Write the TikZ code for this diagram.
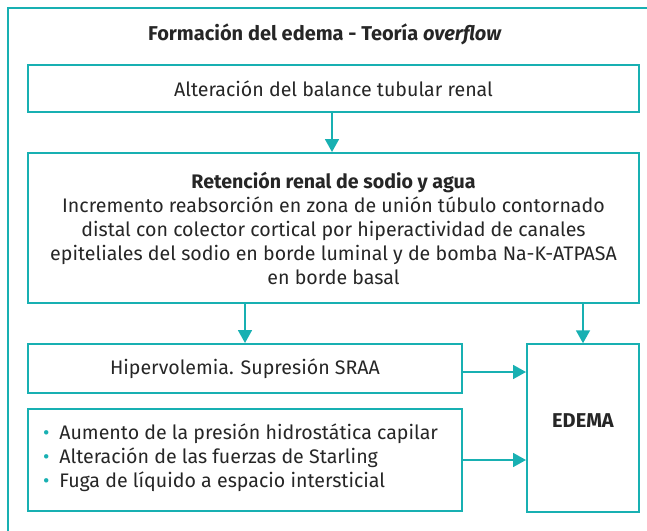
\documentclass[tikz,border=0pt]{standalone}
\usepackage{fontspec}
\setmainfont{Fira Sans}
\usetikzlibrary{arrows.meta}
\definecolor{teal1}{RGB}{24,176,178}
\definecolor{txt}{RGB}{38,38,38}
\tikzset{
  box/.style={draw=teal1, line width=2pt, fill=white, inner sep=0pt, text=txt, align=center, font=\fontsize{19.6}{24}\selectfont},
  conn/.style={draw=teal1, line width=1.8pt, -{Triangle[length=13pt,width=14pt]}},
}
\begin{document}
\begin{tikzpicture}[x=1pt,y=-1pt]
\useasboundingbox (0,0) rectangle (647,530);
\draw[teal1, line width=2pt] (8,532) -- (8,7.5) -- (649,7.5);
\node[text=txt, font=\fontsize{20}{24}\selectfont\bfseries] (title) at (325,34) {Formación del edema - Teoría \textit{overflow}};
\node[box, minimum width=611pt, minimum height=47pt] (b1) at (333.5,88.5) {Alteración del balance tubular renal};
\node[box, minimum width=611pt, minimum height=150pt] (b2) at (333.5,228) {\textbf{Retención renal de sodio y agua}\\Incremento reabsorción en zona de unión túbulo contornado\\distal con colector cortical por hiperactividad de canales\\epiteliales del sodio en borde luminal y de bomba Na-K-ATPASA\\en borde basal};
\node[box, minimum width=434pt, minimum height=49pt] (b3) at (245,368.5) {Hipervolemia. Supresión SRAA};
\node[box, minimum width=434pt, minimum height=102.5pt] (b4) at (245,460) {};
\node[box, minimum width=112pt, minimum height=167.5pt] (ed) at (583,428) {};
\node[text=txt, font=\fontsize{20}{24}\selectfont\bfseries] (edt) at (583,421) {EDEMA};
\node[text=txt, anchor=west, align=left, inner sep=0pt, font=\fontsize{19.6}{24}\selectfont] (b4t) at (43,458) {{\color{teal1}\textbullet}\enspace Aumento de la presión hidrostática capilar\\{\color{teal1}\textbullet}\enspace Alteración de las fuerzas de Starling\\{\color{teal1}\textbullet}\enspace Fuga de líquido a espacio intersticial};
\coordinate (a1) at (332,112);
\draw[conn] (a1 |- b1.south) -- (a1 |- b2.north);
\draw[conn] (b2.south -| b3.north) -- (b3.north);
\draw[conn] (b2.south -| ed.north) -- (ed.north);
\coordinate (a4) at (0,372);
\draw[conn] (b3.east |- a4) -- (ed.west |- a4);
\coordinate (a5) at (0,460);
\draw[conn] (b4.east |- a5) -- (ed.west |- a5);
\end{tikzpicture}
\end{document}
